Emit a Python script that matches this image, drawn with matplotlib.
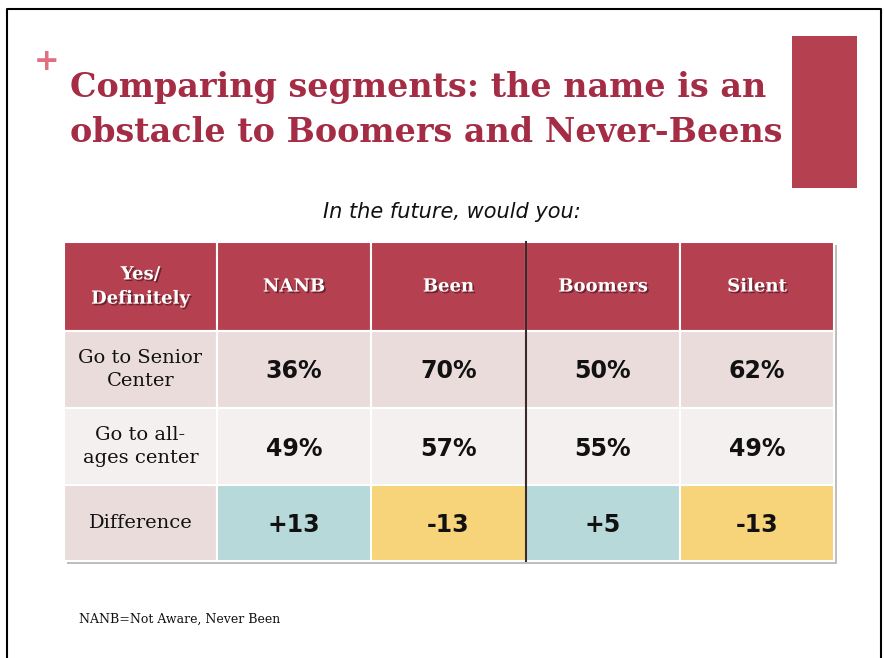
import matplotlib.pyplot as plt
import matplotlib.patheffects as pe
from matplotlib.patches import Rectangle

# --- data ---
columns    = ["NANB", "Been", "Boomers", "Silent"]
row_labels = ["Go to Senior\nCenter", "Go to all-\nages center", "Difference"]
senior     = [36, 70, 50, 62]
allages    = [49, 57, 55, 49]
difference = [13, -13, 5, -13]

ROJO     = "#B5404F"
TITULO   = "#A42C44"
ROSA_F1  = "#EBDCDC"
ROSA_F2  = "#F4F0EF"
TEAL     = "#B7D9D9"
AMARILLO = "#F7D479"

fig = plt.figure(figsize=(8.84, 6.58), dpi=100)
ax = fig.add_axes([0, 0, 1, 1])
ax.set_xlim(0, 884)
ax.set_ylim(658, 0)
ax.axis("off")

# slide frame
ax.plot([7, 7, 881, 881], [660, 9, 9, 660], color="black", lw=1.5)

# decoration
ax.text(47, 62, "+", color="#E07080", fontsize=22, fontweight="bold",
        ha="center", va="center", family="DejaVu Sans")
ax.add_patch(Rectangle((792, 36), 65, 152, color=ROJO, lw=0))

ax.text(70, 88, "Comparing segments: the name is an", color=TITULO,
        fontsize=24, fontweight="bold", family="DejaVu Serif", va="center")
ax.text(70, 132, "obstacle to Boomers and Never-Beens", color=TITULO,
        fontsize=24, fontweight="bold", family="DejaVu Serif", va="center")

ax.text(452, 212, "In the future, would you:", fontsize=15, style="italic",
        family="DejaVu Sans", ha="center", va="center", color="#111111")

# --- table ---
x_bordes = [64, 217, 371, 526, 680, 834]
y_bordes = [242, 331, 408, 485, 561]

ax.add_patch(Rectangle((x_bordes[0] + 3, y_bordes[0] + 3),
                       x_bordes[-1] - x_bordes[0], y_bordes[-1] - y_bordes[0],
                       color="#BDBDBD", lw=0, zorder=1))

def celda(c, r, color):
    x0, x1 = x_bordes[c], x_bordes[c + 1]
    y0, y1 = y_bordes[r], y_bordes[r + 1]
    ax.add_patch(Rectangle((x0, y0), x1 - x0, y1 - y0, facecolor=color,
                           edgecolor="white", lw=1.5, zorder=2))
    return (x0 + x1) / 2, (y0 + y1) / 2

sombra = [pe.withSimplePatchShadow(offset=(1.2, -1.2), shadow_rgbFace="#4a1620", alpha=0.7)]

cx, cy = celda(0, 0, ROJO)
ax.text(cx, cy, "Yes/\nDefinitely", color="white", fontsize=13, fontweight="bold",
        family="DejaVu Serif", ha="center", va="center", linespacing=1.45,
        path_effects=sombra, zorder=3)
for j, nombre in enumerate(columns):
    cx, cy = celda(j + 1, 0, ROJO)
    ax.text(cx, cy, nombre, color="white", fontsize=13, fontweight="bold",
            family="DejaVu Serif", ha="center", va="center",
            path_effects=sombra, zorder=3)

fondos = [ROSA_F1, ROSA_F2, ROSA_F1]
for i, etiqueta in enumerate(row_labels):
    cx, cy = celda(0, i + 1, fondos[i])
    ax.text(cx, cy, etiqueta, fontsize=14, family="DejaVu Serif",
            ha="center", va="center", linespacing=1.35, color="#111111", zorder=3)

for j in range(len(columns)):
    cx, cy = celda(j + 1, 1, ROSA_F1)
    ax.text(cx, cy + 2, f"{senior[j]}%", fontsize=17, fontweight="bold",
            family="DejaVu Sans", ha="center", va="center", color="#111111", zorder=3)
    cx, cy = celda(j + 1, 2, ROSA_F2)
    ax.text(cx, cy + 2, f"{allages[j]}%", fontsize=17, fontweight="bold",
            family="DejaVu Sans", ha="center", va="center", color="#111111", zorder=3)
    d = difference[j]
    cx, cy = celda(j + 1, 3, TEAL if d > 0 else AMARILLO)
    ax.text(cx, cy + 2, f"{d:+d}", fontsize=17, fontweight="bold",
            family="DejaVu Sans", ha="center", va="center", color="#111111", zorder=3)

# dark divider between Been and Boomers
ax.plot([x_bordes[3], x_bordes[3]], [y_bordes[0], y_bordes[-1]],
        color="#3a2a2a", lw=1.5, zorder=4)

ax.text(79, 619, "NANB=Not Aware, Never Been", fontsize=9, family="DejaVu Serif",
        va="center", color="#111111")

plt.savefig("out.png", dpi=100)
